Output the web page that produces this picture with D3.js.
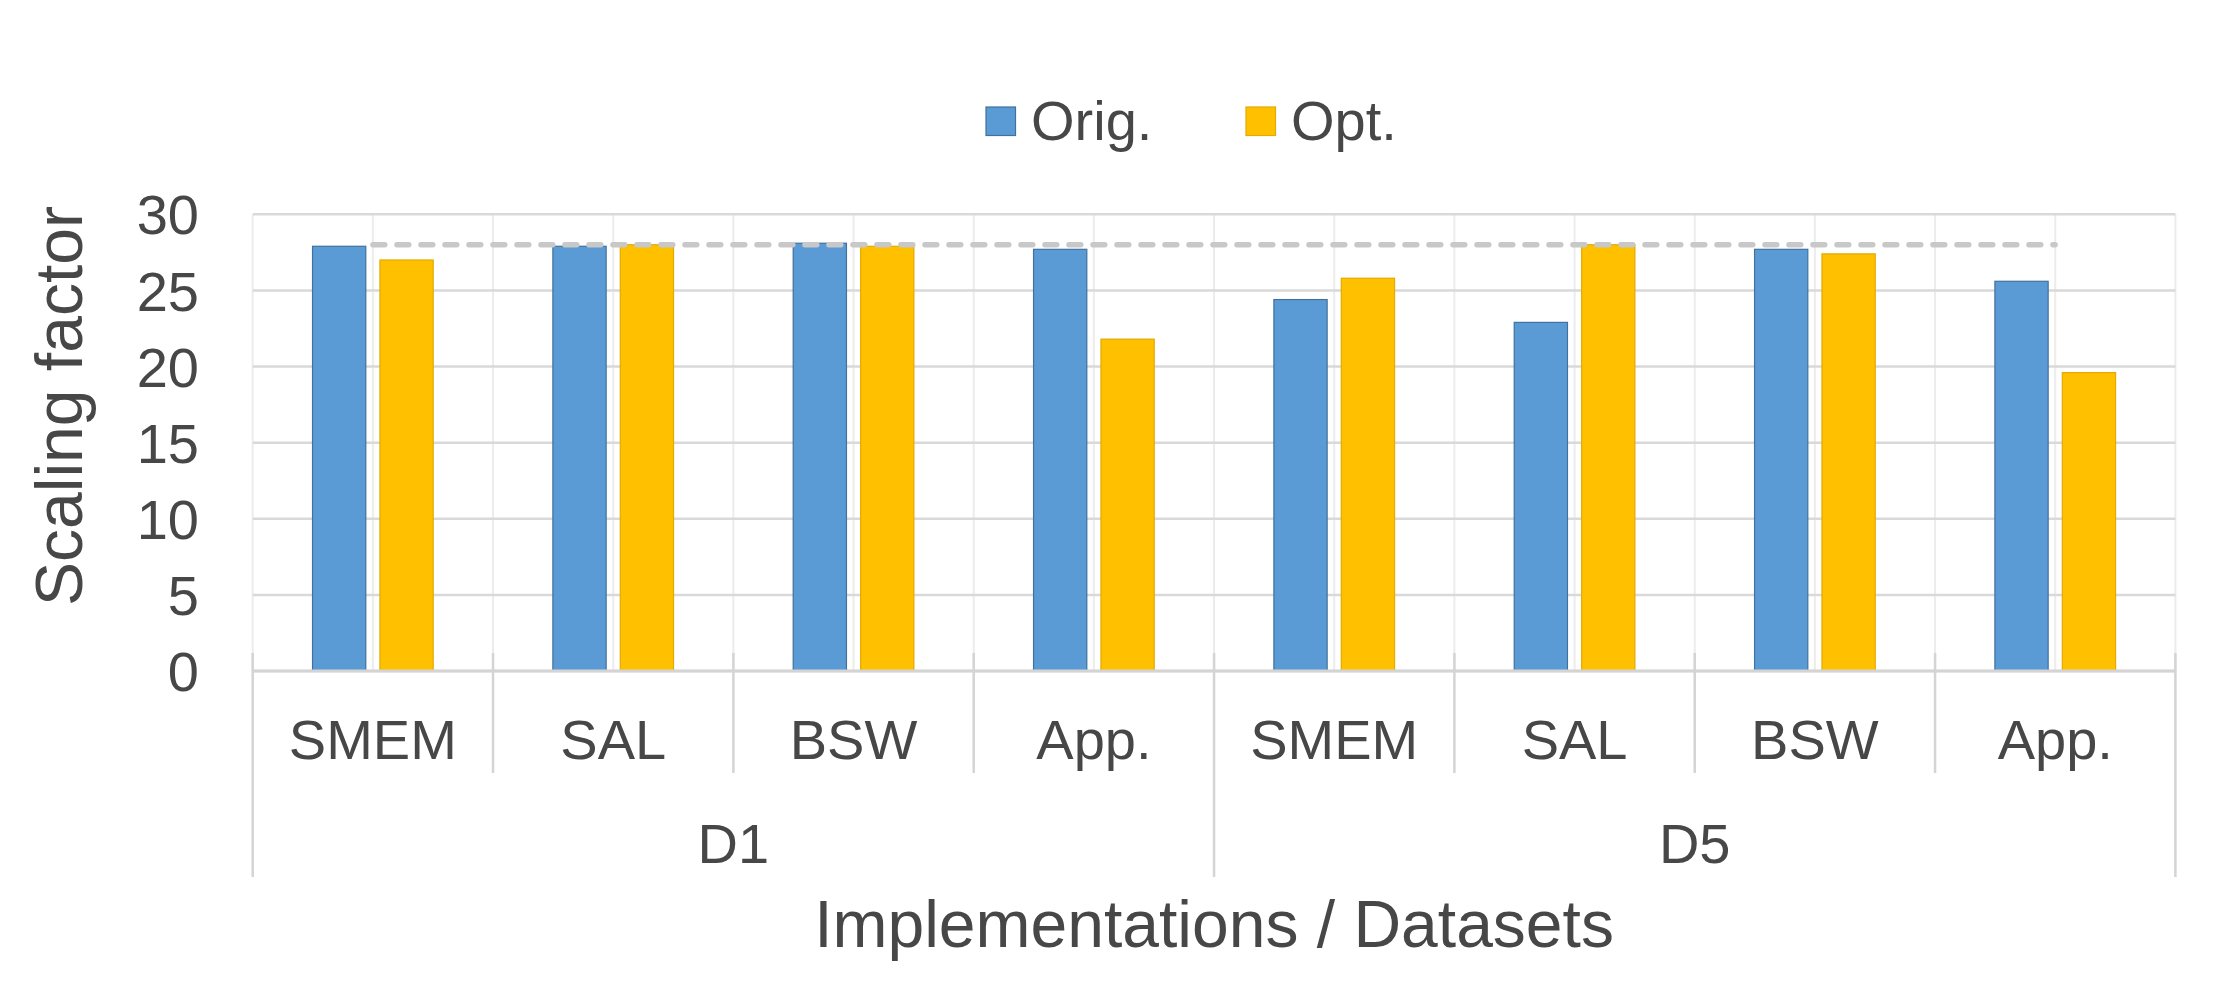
<!DOCTYPE html>
<html lang="en">
<head>
    <meta charset="UTF-8">
    <title>Scaling factor</title>
    <script src="https://d3js.org/d3.v7.min.js"></script>
    <style>
        body{
            margin: 0;
            background-color: white;
        }
        svg text{
            font-family: "Liberation Sans", Arial, sans-serif;
            fill: #474747;
        }
        .grid line{
            stroke: #d9d9d9;
            stroke-width: 2.5px;
        }
        .vgrid line{
            stroke: #ececec;
            stroke-width: 2px;
        }
        .sep{
            stroke: #d4d4d4;
            stroke-width: 2.5px;
        }
    </style>
</head>
<body>
<svg id="canvas" width="2213" height="990"></svg>
<script>
    // values
    let categories = ["SMEM", "SAL", "BSW", "App.", "SMEM", "SAL", "BSW", "App."]
    let datasets = ["D1", "D5"]
    let seriesNames = ["Orig.", "Opt."]
    let origValues = [27.9, 27.9, 28.1, 27.7, 24.4, 22.9, 27.7, 25.6]
    let optValues = [27.0, 28.0, 27.9, 21.8, 25.8, 28.0, 27.4, 19.6]
    let idealLine = 28
    let yTicks = [0, 5, 10, 15, 20, 25, 30]

    let colors = {"Orig.": "#5b9bd5", "Opt.": "#ffc000"}
    let strokes = {"Orig.": "#41719c", "Opt.": "#e3aa00"}

    let svg = d3.select('svg')
    let plotLeft = 252.7, plotRight = 2175.4, plotTop = 214.3, plotBottom = 671

    let idx = d3.range(categories.length)
    let x0 = d3.scaleBand().domain(idx).range([plotLeft, plotRight])
    let x1 = d3.scaleBand().domain(seriesNames).range([0, x0.bandwidth()])
        .paddingInner(0.21).paddingOuter(0.8876)
    let y = d3.scaleLinear().domain([0, 30]).range([plotBottom, plotTop])

    let rows = idx.map(function (i){
        return {i: i, vals: [
            {name: "Orig.", v: origValues[i]},
            {name: "Opt.", v: optValues[i]}
        ]}
    })

    // vertical gridlines: category edges and centres
    let vlines = []
    idx.forEach(function (i){
        vlines.push(x0(i))
        vlines.push(x0(i) + x0.bandwidth() / 2)
    })
    vlines.push(plotRight)
    svg.append('g').attr('class', 'vgrid')
        .selectAll('line').data(vlines).enter().append('line')
        .attr('x1', d => d).attr('x2', d => d)
        .attr('y1', plotTop).attr('y2', plotBottom)

    // horizontal gridlines
    svg.append('g').attr('class', 'grid')
        .selectAll('line').data(yTicks).enter().append('line')
        .attr('x1', plotLeft).attr('x2', plotRight)
        .attr('y1', d => y(d)).attr('y2', d => y(d))

    // bars
    let groups = svg.append('g').selectAll('g')
        .data(rows).enter().append('g')
        .attr('transform', d => "translate(" + x0(d.i) + ",0)")
    groups.selectAll('rect')
        .data(d => d.vals).enter().append('rect')
        .attr('x', d => x1(d.name))
        .attr('width', x1.bandwidth())
        .attr('y', d => y(d.v))
        .attr('height', d => y(0) - y(d.v))
        .attr('fill', d => colors[d.name])
        .attr('stroke', d => strokes[d.name])
        .attr('stroke-width', 1.2)

    // dashed reference line from first to last category centre
    svg.append('line')
        .attr('x1', x0(0) + x0.bandwidth() / 2)
        .attr('x2', x0(idx.length - 1) + x0.bandwidth() / 2)
        .attr('y1', y(idealLine)).attr('y2', y(idealLine))
        .attr('stroke', '#c8c8c8')
        .attr('stroke-width', 5.3)
        .attr('stroke-dasharray', '12,12')
        .attr('stroke-linecap', 'round')

    // zero axis line
    svg.append('line').attr('class', 'sep')
        .attr('x1', plotLeft).attr('x2', plotRight)
        .attr('y1', y(0)).attr('y2', y(0))
        .style('stroke-width', '3px')

    // category separators
    let sepCats = d3.range(categories.length + 1)
    svg.append('g').selectAll('line')
        .data(sepCats).enter().append('line')
        .attr('class', 'sep')
        .attr('x1', d => plotLeft + d * x0.step()).attr('x2', d => plotLeft + d * x0.step())
        .attr('y1', y(0) - 18)
        .attr('y2', d => d % 4 === 0 ? 877 : 773)

    // y axis
    let yAxis = d3.axisLeft(y).tickValues(yTicks).tickSize(0).tickPadding(0)
    let yg = svg.append('g')
        .attr('transform', "translate(199,0)")
        .call(yAxis)
    yg.select('.domain').remove()
    yg.selectAll('text')
        .attr('x', 0)
        .attr('dy', '0.35em')
        .style('font-size', '56px')
        .style('font-family', '"Liberation Sans", Arial, sans-serif')
        .style('fill', '#474747')

    // category labels
    let xAxis = d3.axisBottom(x0).tickSize(0).tickFormat(i => categories[i])
    let xg = svg.append('g')
        .attr('transform', "translate(0,759)")
        .call(xAxis)
    xg.select('.domain').remove()
    xg.selectAll('text')
        .attr('y', 0).attr('dy', 0)
        .style('font-size', '56px')
        .style('font-family', '"Liberation Sans", Arial, sans-serif')
        .style('fill', '#474747')

    // dataset labels
    svg.append('g').selectAll('text')
        .data(datasets).enter().append('text')
        .attr('x', (d, i) => plotLeft + (i * 4 + 2) * x0.step())
        .attr('y', 863)
        .attr('text-anchor', 'middle')
        .style('font-size', '56px')
        .text(d => d)

    // axis titles
    svg.append('text')
        .attr('x', (plotLeft + plotRight) / 2)
        .attr('y', 947)
        .attr('text-anchor', 'middle')
        .style('font-size', '66px')
        .text("Implementations / Datasets")
    svg.append('text')
        .attr('transform', "translate(82,406) rotate(-90)")
        .attr('text-anchor', 'middle')
        .style('font-size', '66px')
        .text("Scaling factor")

    // legend
    let legendX = [986, 1246]
    let legend = svg.append('g').selectAll('g')
        .data(seriesNames).enter().append('g')
        .attr('transform', (d, i) => "translate(" + legendX[i] + ",107)")
    legend.append('rect')
        .attr('width', 29.5).attr('height', 28.5)
        .attr('fill', d => colors[d])
        .attr('stroke', d => strokes[d])
        .attr('stroke-width', 1.2)
    legend.append('text')
        .attr('x', 45).attr('y', 32.5)
        .style('font-size', '56px')
        .text(d => d)
</script>
</body>
</html>
